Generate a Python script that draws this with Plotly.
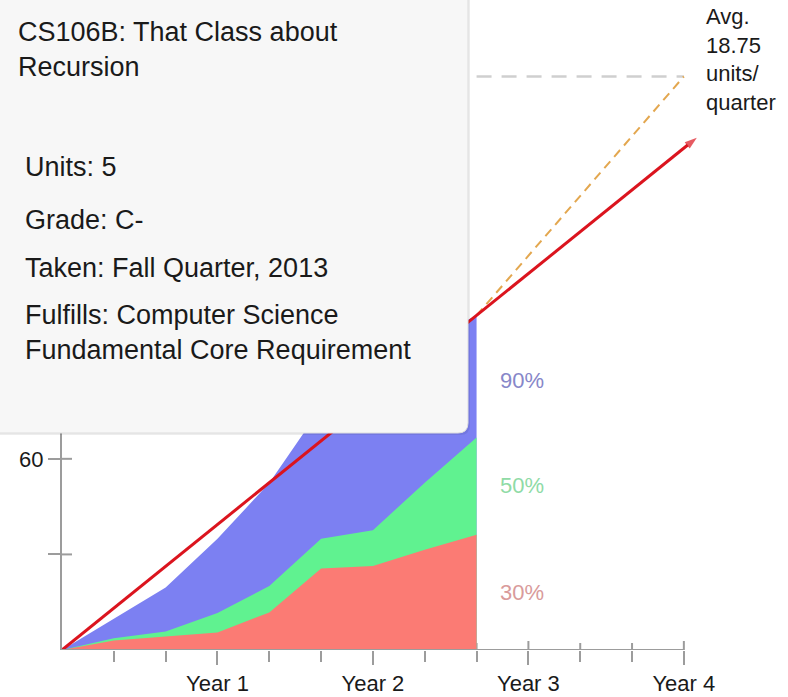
import plotly.graph_objects as go

# ---------------- data ----------------
quarters = [0, 1, 2, 3, 4, 5, 6, 7, 8]
p90_units = [0, 9.7, 19.6, 34.9, 52.4, 76, 88, 97, 105]
p50_units = [0, 3.7, 5.8, 11.6, 20.1, 34.9, 37.6, 52.5, 66.7]
p30_units = [0, 3.0, 4.2, 5.5, 11.8, 25.6, 26.4, 31.5, 36.2]

trend_x = [0, 12.25]
trend_y = [0, 160.8]
needed_x = [8, 12]
needed_y = [105, 180]
goal_x = [8, 12]
goal_y = [180, 180]

year_ticks = [3, 6, 9, 12]
year_labels = ["Year 1", "Year 2", "Year 3", "Year 4"]
quarter_ticks = [1, 2, 4, 5, 7, 8, 10, 11]
y_ticks = [30, 60]
y_labels = ["", "60"]

pct_labels = ["90%", "50%", "30%"]
pct_y = [84.5, 51.5, 18.2]
pct_colors = ["#8787c9", "#8fdba6", "#d99b9b"]

title_text = "CS106B: That Class about<br>Recursion"
detail_lines = ["Units: 5", "Grade: C-", "Taken: Fall Quarter, 2013",
                "Fulfills: Computer Science<br>Fundamental Core Requirement"]

# ---------------- layout geometry ----------------
W, H = 788, 697
ML, MR, MT, MB = 62, 86, 0, 47
PW, PH = W - ML - MR, H - MT - MB
x_range = [0, 12.35]
y_range = [0, 204]


def px2x(px):
    return (px - ML) / PW


def py2y(py):
    return (MT + PH - py) / PH


fig = go.Figure()

for ys, col in [(p90_units, "#7c80f2"), (p50_units, "#60f290"), (p30_units, "#fb7b74")]:
    fig.add_trace(go.Scatter(x=quarters, y=ys, mode="lines", fill="tozeroy",
                             fillcolor=col, line=dict(width=0, color=col),
                             hoverinfo="skip", showlegend=False))

fig.add_trace(go.Scatter(x=goal_x, y=goal_y, mode="lines",
                         line=dict(color="#cfcfcf", width=2.5, dash="15px,10px"),
                         showlegend=False, hoverinfo="skip"))
fig.add_trace(go.Scatter(x=needed_x, y=needed_y, mode="lines",
                         line=dict(color="#e3a74f", width=2, dash="9px,6px"),
                         showlegend=False, hoverinfo="skip"))
fig.add_trace(go.Scatter(x=trend_x, y=trend_y, mode="lines+markers",
                         line=dict(color="#db141e", width=3),
                         marker=dict(symbol=["circle", "arrow"], size=[0, 13],
                                     angleref="previous", color="#db141e",
                                     line=dict(width=0)),
                         cliponaxis=False, showlegend=False, hoverinfo="skip"))

shapes = []
axis_col = "#9c9c9c"
# inside halves of y ticks
for v in y_ticks:
    shapes.append(dict(type="line", xref="x", yref="y", xsizemode="pixel", xanchor=0,
                       x0=0, x1=10, y0=v, y1=v, layer="below",
                       line=dict(color=axis_col, width=2)))
# upper halves of x ticks
for v in year_ticks:
    shapes.append(dict(type="line", xref="x", yref="y", ysizemode="pixel", yanchor=0,
                       y0=0, y1=9, x0=v, x1=v, layer="below",
                       line=dict(color=axis_col, width=2)))
for v in quarter_ticks:
    shapes.append(dict(type="line", xref="x", yref="y", ysizemode="pixel", yanchor=0,
                       y0=0, y1=7, x0=v, x1=v, layer="below",
                       line=dict(color=axis_col, width=2)))
# x axis line up to Year 4
shapes.append(dict(type="line", xref="x", yref="y", x0=0, x1=year_ticks[-1], y0=0, y1=0,
                   layer="above", line=dict(color=axis_col, width=2)))

# info box (tooltip)
r = 10


def box_path(dx, dy):
    x0p, x1p = px2x(-10 + dx), px2x(468 + dx)
    yt, yb = py2y(-10 + dy), py2y(433 + dy)
    rx, ry = r / PW, r / PH
    return (f"M {x0p},{yt} L {x1p},{yt} L {x1p},{yb + ry} "
            f"Q {x1p},{yb} {x1p - rx},{yb} L {x0p},{yb} Z")


shapes.append(dict(type="path", xref="paper", yref="paper", path=box_path(2, 2),
                   fillcolor="rgba(0,0,0,0.07)", line=dict(width=0), layer="above"))
shapes.append(dict(type="path", xref="paper", yref="paper", path=box_path(0, 0),
                   fillcolor="#f7f7f7", line=dict(color="#dddddd", width=1), layer="above"))

annotations = []
FONT = "Liberation Sans, Arial, sans-serif"
annotations.append(dict(xref="paper", yref="paper", x=px2x(16), y=py2y(49),
                        xanchor="left", yanchor="middle", align="left", showarrow=False,
                        text=title_text, font=dict(family=FONT, size=27, color="#1a1a1a")))
detail_py = [167, 220, 268, 332]
for t, py in zip(detail_lines, detail_py):
    annotations.append(dict(xref="paper", yref="paper", x=px2x(23), y=py2y(py),
                            xanchor="left", yanchor="middle", align="left", showarrow=False,
                            text=t, font=dict(family=FONT, size=27, color="#1a1a1a")))
for t, yv, c in zip(pct_labels, pct_y, pct_colors):
    annotations.append(dict(xref="x", yref="y", x=8.88, y=yv, showarrow=False, text=t,
                            font=dict(family=FONT, size=22, color=c)))
annotations.append(dict(xref="paper", yref="paper", x=px2x(704), y=py2y(59),
                        xanchor="left", yanchor="middle", align="left", showarrow=False,
                        text="Avg.<br>18.75<br>units/<br>quarter",
                        font=dict(family=FONT, size=22, color="#1a1a1a")))

fig.update_layout(
    width=W, height=H,
    margin=dict(l=ML, r=MR, t=MT, b=MB, pad=0),
    paper_bgcolor="white", plot_bgcolor="white",
    font=dict(family=FONT, color="#1a1a1a"),
    showlegend=False,
    shapes=shapes, annotations=annotations,
    xaxis=dict(range=x_range, showgrid=False, zeroline=False, showline=False,
               tickmode="array", tickvals=year_ticks, ticktext=year_labels,
               ticks="outside", ticklen=14, tickwidth=2, tickcolor=axis_col,
               tickfont=dict(size=22, family=FONT, color="#1a1a1a"),
               minor=dict(tickmode="array", tickvals=quarter_ticks, ticks="outside",
                          ticklen=11, tickwidth=2, tickcolor=axis_col),
               fixedrange=True),
    yaxis=dict(range=y_range, showgrid=False, zeroline=False, showline=True,
               linecolor=axis_col, linewidth=2,
               tickmode="array", tickvals=y_ticks, ticktext=y_labels,
               ticks="outside", ticklen=12, tickwidth=2, tickcolor=axis_col,
               tickfont=dict(size=22, family=FONT, color="#1a1a1a"),
               fixedrange=True),
)

fig.write_html("out.html", config={"displayModeBar": False},
               post_script="document.body.style.margin='0px';document.body.style.overflow='hidden';")
